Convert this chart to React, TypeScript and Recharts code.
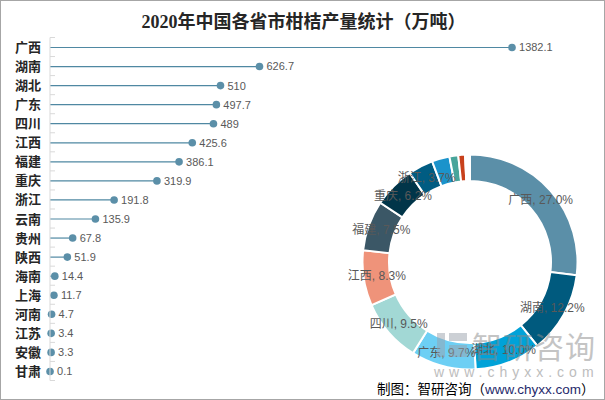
import React from "react";
import { ComposedChart, Bar, XAxis, YAxis, LabelList, PieChart, Pie, Cell } from "recharts";

const provinces = ["广西", "湖南", "湖北", "广东", "四川", "江西", "福建", "重庆", "浙江", "云南", "贵州", "陕西", "海南", "上海", "河南", "江苏", "安徽", "甘肃"];
const output = [1382.1, 626.7, 510, 497.7, 489, 425.6, 386.1, 319.9, 191.8, 135.9, 67.8, 51.9, 14.4, 11.7, 4.7, 3.4, 3.3, 0.1];
const sliceColors = ["#5b8fa8", "#005a7e", "#00a2d8", "#6dcff4", "#a2d8d5", "#ef937a", "#3b5766", "#013549", "#005c82", "#1b93cb", "#48a59b", "#c8411c", "#ffffff", "#ffffff", "#ffffff", "#ffffff", "#ffffff", "#ffffff"];
const labelMinPercent = 0.03;

const data = provinces.map((name, i) => ({ name, value: output[i] }));

const W = 605;
const H = 400;
const FONT = "'Liberation Sans', 'Noto Sans CJK SC', sans-serif";

const LollipopShape = (props: any) => {
  const { x, y, width, height } = props;
  const cy = y + height / 2;
  const endX = x + width;
  return (
    <g>
      <line x1={x} y1={cy} x2={endX} y2={cy} stroke="#4f88a2" strokeWidth={1.2} />
      <circle cx={endX} cy={cy} r={3.8} fill="#5b8fa8" />
    </g>
  );
};

const CatTick = (props: any) => {
  const { x, y, payload, index, visibleTicksCount } = props;
  const axisX = x + 13;
  const half = 9.53;
  return (
    <g>
      <text x={axisX - 14} y={y} dy={5} textAnchor="end" fontSize={13} fontWeight="bold" fill="#262626" fontFamily={FONT}>
        {payload.value}
      </text>
      <line x1={axisX - 5} x2={axisX} y1={y - half} y2={y - half} stroke="#d9d9d9" />
      {index === visibleTicksCount - 1 ? (
        <line x1={axisX - 5} x2={axisX} y1={y + half} y2={y + half} stroke="#d9d9d9" />
      ) : null}
    </g>
  );
};

const RADIAN = Math.PI / 180;
const renderPieLabel = (props: any) => {
  const { cx, cy, midAngle, innerRadius, outerRadius, percent, name } = props;
  if (percent < labelMinPercent) return null;
  const r = (innerRadius + outerRadius) / 2;
  const x = cx + r * Math.cos(-midAngle * RADIAN);
  const y = cy + r * Math.sin(-midAngle * RADIAN);
  return (
    <text x={x} y={y} dy={4} textAnchor="middle" fontSize={12} fill="#595959" fontFamily={FONT}>
      {`${name}, ${(percent * 100).toFixed(1)}%`}
    </text>
  );
};

export default function App() {
  return (
    <div
      style={{
        position: "fixed",
        left: 0,
        top: 0,
        width: W,
        height: H,
        background: "#ffffff",
        boxSizing: "border-box",
        border: "1px solid #a6a6a6",
        overflow: "hidden",
      }}
    >
      <div
        style={{
          position: "absolute",
          left: 0,
          top: 9,
          width: W,
          textAlign: "center",
          fontSize: 18,
          fontFamily: "'Liberation Serif', 'Noto Sans CJK SC', serif",
          color: "#262626",
          fontWeight: 600,
          lineHeight: "24px",
        }}
      >
        2020年中国各省市柑桔产量统计（万吨）
      </div>
      <div style={{ position: "absolute", left: -1, top: -1 }}>
        <ComposedChart
          width={W}
          height={H}
          layout="vertical"
          data={data}
          margin={{ top: 37.5, right: 87, left: 0, bottom: 19.5 }}
        >
          <XAxis type="number" hide domain={[0, 1400]} />
          <YAxis
            type="category"
            dataKey="name"
            width={50}
            axisLine={{ stroke: "#d9d9d9" }}
            tickLine={false}
            tick={<CatTick />}
            interval={0}
          />
          <Bar dataKey="value" isAnimationActive={false} shape={<LollipopShape />} barSize={8}>
            <LabelList
              dataKey="value"
              position="right"
              offset={7}
              fontSize={11}
              fill="#595959"
              fontFamily={FONT}
            />
          </Bar>
        </ComposedChart>
      </div>
      <div style={{ position: "absolute", left: -1, top: -1 }}>
        <PieChart width={W} height={H} margin={{ top: 0, right: 0, bottom: 0, left: 0 }}>
          <Pie
            data={data}
            dataKey="value"
            nameKey="name"
            cx={470}
            cy={262}
            innerRadius={81}
            outerRadius={107.5}
            startAngle={90}
            endAngle={-270}
            stroke="#ffffff"
            strokeWidth={2}
            label={renderPieLabel}
            labelLine={false}
            isAnimationActive={false}
          >
            {data.map((d, i) => (
              <Cell key={d.name} fill={sliceColors[i]} />
            ))}
          </Pie>
        </PieChart>
      </div>
      <svg width={W} height={H} style={{ position: "absolute", left: -1, top: -1, pointerEvents: "none" }}>
        <g opacity={0.5}>
          <rect x={437} y={333} width={8} height={24} fill="#9aa3ad" />
          <rect x={449} y={333} width={18} height={8} fill="#9aa3ad" />
          <rect x={449} y={345} width={18} height={12} fill="#9aa3ad" />
          <text x={472} y={358} fontSize={30} fill="#8a8a8a" fontFamily="'Noto Sans CJK SC', sans-serif" letterSpacing={1}>
            智研咨询
          </text>
        </g>
        <text x={434} y={377} fontSize={14} fill="#bdbdbd" fontFamily={FONT} letterSpacing={5}>
          www.chyxx.com
        </text>
        <text x={377} y={394} fontSize={13.5} fill="#000000" fontFamily="'Noto Sans CJK SC', sans-serif">
          制图：智研咨询（<tspan fill="#1f2a6b" fontFamily={FONT}>www.chyxx.com</tspan>）
        </text>
      </svg>
    </div>
  );
}
